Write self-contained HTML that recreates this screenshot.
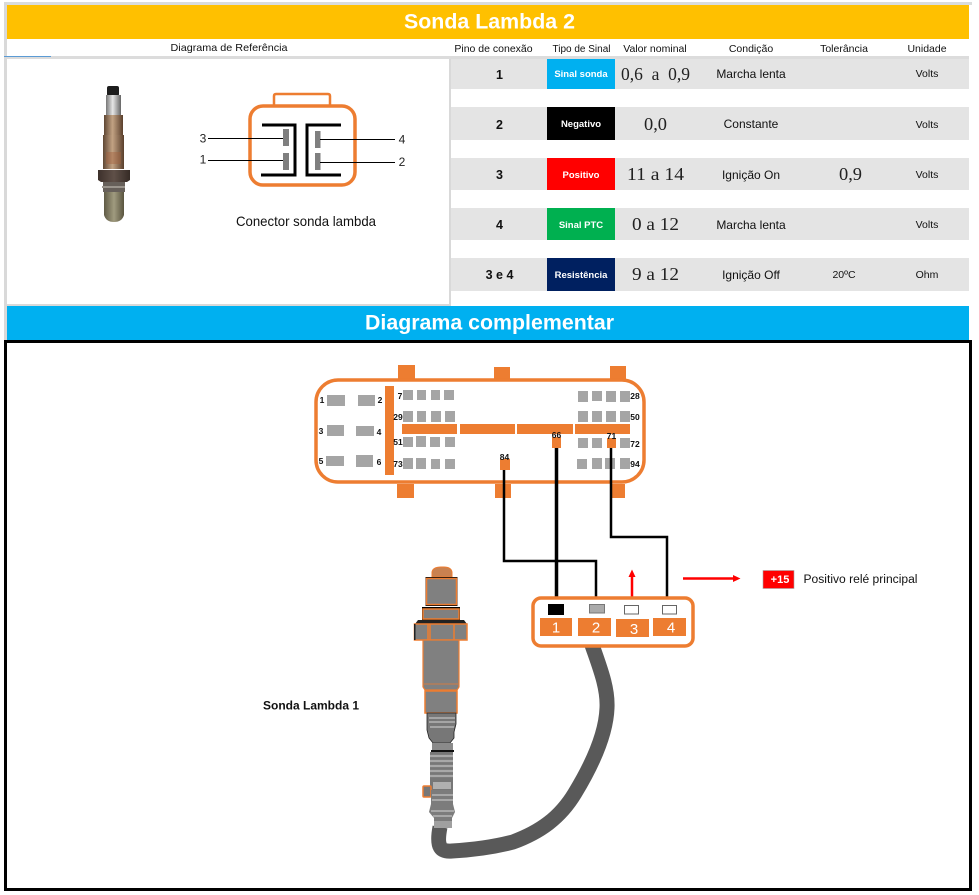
<!DOCTYPE html>
<html>
<head>
<meta charset="utf-8">
<style>
html,body{margin:0;padding:0;background:#fff;}
svg{display:block;}
text{font-family:"Liberation Sans",sans-serif;white-space:pre;}
.h{font-size:10.5px;fill:#111;text-anchor:middle;}
.pin{font-size:12.5px;font-weight:bold;fill:#111;text-anchor:middle;}
.sig{font-size:9.5px;font-weight:bold;fill:#fff;text-anchor:middle;}
.val{font-family:"Liberation Serif",serif;font-size:18px;fill:#222;text-anchor:middle;}
.c{font-size:12px;fill:#111;text-anchor:middle;}
.u{font-size:10.5px;fill:#111;text-anchor:middle;}
.e{font-size:8.5px;font-weight:bold;fill:#111;text-anchor:middle;}
.n{font-size:15px;fill:#fff;text-anchor:middle;}
.cn{font-size:12px;fill:#222;text-anchor:middle;}
.g rect{fill:#a5a5a5;}
.o{fill:#ed7d31;}
.s{fill:#808080;stroke:#ed7d31;stroke-width:1.5;}
</style>
</head>
<body>
<svg width="979" height="895" viewBox="0 0 979 895" xmlns="http://www.w3.org/2000/svg">
<defs>
<linearGradient id="cop" x1="0" x2="1" y1="0" y2="0"><stop offset="0" stop-color="#5f4734"/><stop offset=".45" stop-color="#c2a283"/><stop offset="1" stop-color="#5a3f2c"/></linearGradient>
<linearGradient id="sil" x1="0" x2="1" y1="0" y2="0"><stop offset="0" stop-color="#777"/><stop offset=".45" stop-color="#e6e6e6"/><stop offset="1" stop-color="#666"/></linearGradient>
<linearGradient id="hex" x1="0" x2="1" y1="0" y2="0"><stop offset="0" stop-color="#3d302b"/><stop offset=".5" stop-color="#5f5048"/><stop offset="1" stop-color="#352a25"/></linearGradient>
<linearGradient id="tip" x1="0" x2="1" y1="0" y2="0"><stop offset="0" stop-color="#5f5a45"/><stop offset=".5" stop-color="#a09b7f"/><stop offset="1" stop-color="#59543f"/></linearGradient>
</defs>

<!-- page frame -->
<rect x="4" y="2" width="968" height="3" fill="#d9dcdc"/>
<rect x="4" y="2" width="3" height="338" fill="#d9d9d9"/>
<rect x="7" y="5" width="962" height="34" fill="#ffc000"/>
<text x="489.500" y="28.500" text-anchor="middle" font-size="21" font-weight="bold" fill="#fff" textLength="171" lengthAdjust="spacingAndGlyphs">Sonda Lambda 2</text>

<!-- header row -->
<text class="h" x="229" y="51" textLength="117" lengthAdjust="spacingAndGlyphs">Diagrama de Referência</text>
<text class="h" x="493.500" y="52">Pino de conexão</text>
<text class="h" x="581.500" y="52" style="font-size:10px">Tipo de Sinal</text>
<text class="h" x="655" y="52">Valor nominal</text>
<text class="h" x="751" y="52">Condição</text>
<text class="h" x="844" y="52">Tolerância</text>
<text class="h" x="927" y="52">Unidade</text>
<rect x="7" y="56" width="962" height="3" fill="#dcdcdc"/>
<rect x="4" y="56" width="47" height="1" fill="#5b9bd5"/>

<!-- left panel -->
<rect x="7" y="59" width="442" height="245" fill="#fff"/>
<rect x="449" y="59" width="2" height="247" fill="#d9d9d9"/>
<rect x="7" y="304" width="442" height="2" fill="#d9d9d9"/>

<!-- sensor photo -->
<rect x="107" y="86" width="12" height="10" rx="2" fill="#1d1d1d"/>
<rect x="106" y="95" width="15" height="21" fill="url(#sil)"/>
<rect x="104" y="115" width="19" height="21" fill="url(#cop)"/>
<rect x="103" y="135" width="21" height="34" fill="url(#cop)"/>
<rect x="106" y="152" width="15" height="12" fill="#a5623f" opacity=".45"/>
<polygon points="98,170 130,170 130,180 127,182 101,182 98,180" fill="url(#hex)"/>
<rect x="103" y="182" width="22" height="10" fill="#67605a"/>
<rect x="102" y="186" width="23" height="2" fill="#9a948c"/>
<path d="M104 192H124V215Q122 222 114 222Q106 222 104 215Z" fill="url(#tip)"/>

<!-- small connector -->
<path d="M274 105V96Q274 94 276 94H328Q330 94 330 96V105" fill="none" stroke="#ed7d31" stroke-width="2.500"/>
<rect x="250" y="106" width="105" height="79" rx="13" fill="#fff" stroke="#ed7d31" stroke-width="3.500"/>
<path d="M262 125H295V175H261" fill="none" stroke="#000" stroke-width="3"/>
<path d="M341 125H307V175H341" fill="none" stroke="#000" stroke-width="3"/>
<rect x="283" y="129" width="6" height="17" fill="#7f7f7f"/>
<rect x="283" y="153" width="6" height="17" fill="#7f7f7f"/>
<rect x="315" y="131" width="5.500" height="17" fill="#7f7f7f"/>
<rect x="315" y="153" width="5.500" height="17" fill="#7f7f7f"/>
<path d="M208 138.500H283M208 160.500H283M320 139.500H395M320 162.500H395" stroke="#000" stroke-width="1" fill="none"/>
<text class="cn" x="203" y="142.500">3</text>
<text class="cn" x="203" y="163.500">1</text>
<text class="cn" x="402" y="143.500">4</text>
<text class="cn" x="402" y="166">2</text>
<text x="306" y="226" text-anchor="middle" font-size="14" fill="#111" textLength="140" lengthAdjust="spacingAndGlyphs">Conector sonda lambda</text>

<!-- table rows -->
<g fill="#e4e4e4">
<rect x="451" y="59" width="518" height="30"/>
<rect x="451" y="107" width="518" height="33"/>
<rect x="451" y="158" width="518" height="32"/>
<rect x="451" y="208" width="518" height="32"/>
<rect x="451" y="258" width="518" height="33"/>
</g>
<rect x="547" y="59" width="68" height="30" fill="#00b0f0"/>
<rect x="547" y="107" width="68" height="33" fill="#000"/>
<rect x="547" y="158" width="68" height="32" fill="#ff0000"/>
<rect x="547" y="208" width="68" height="32" fill="#00b050"/>
<rect x="547" y="258" width="68" height="33" fill="#002060"/>

<text class="pin" x="499.500" y="79">1</text>
<text class="pin" x="499.500" y="129">2</text>
<text class="pin" x="499.500" y="179">3</text>
<text class="pin" x="499.500" y="229">4</text>
<text class="pin" x="499.500" y="279">3 e 4</text>

<text class="sig" x="581" y="77">Sinal sonda</text>
<text class="sig" x="581" y="127">Negativo</text>
<text class="sig" x="581" y="178">Positivo</text>
<text class="sig" x="581" y="228">Sinal PTC</text>
<text class="sig" x="581" y="278">Resistência</text>

<text class="val" x="655.500" y="80" textLength="69" lengthAdjust="spacingAndGlyphs">0,6  a  0,9</text>
<text class="val" x="655.500" y="130" textLength="23" lengthAdjust="spacingAndGlyphs">0,0</text>
<text class="val" x="655.500" y="180" textLength="57" lengthAdjust="spacingAndGlyphs">11 a 14</text>
<text class="val" x="655.500" y="230" textLength="47" lengthAdjust="spacingAndGlyphs">0 a 12</text>
<text class="val" x="655.500" y="280" textLength="47" lengthAdjust="spacingAndGlyphs">9 a 12</text>

<text class="c" x="751" y="78">Marcha lenta</text>
<text class="c" x="751" y="128">Constante</text>
<text class="c" x="751" y="179">Ignição On</text>
<text class="c" x="751" y="229">Marcha lenta</text>
<text class="c" x="751" y="279">Ignição Off</text>

<text class="val" x="850.500" y="180" textLength="23" lengthAdjust="spacingAndGlyphs">0,9</text>
<text class="u" x="844" y="278">20ºC</text>

<text class="u" x="927" y="77">Volts</text>
<text class="u" x="927" y="128">Volts</text>
<text class="u" x="927" y="178">Volts</text>
<text class="u" x="927" y="228">Volts</text>
<text class="u" x="927" y="278">Ohm</text>

<!-- second title -->
<rect x="7" y="306" width="962" height="34" fill="#00b0f0"/>
<text x="489.500" y="329.500" text-anchor="middle" font-size="21" font-weight="bold" fill="#fff" textLength="249" lengthAdjust="spacingAndGlyphs">Diagrama complementar</text>

<!-- black frame -->
<rect x="5.500" y="341.500" width="965" height="548" fill="#fff" stroke="#000" stroke-width="3"/>

<!-- ECU connector tabs -->
<g class="o">
<rect x="398" y="365" width="17" height="15"/>
<rect x="494" y="367" width="16" height="13"/>
<rect x="610" y="366" width="16" height="14"/>
<rect x="397" y="484" width="17" height="14"/>
<rect x="495" y="484" width="16" height="14"/>
<rect x="612" y="484" width="13" height="14"/>
</g>
<rect x="316" y="380" width="328" height="102" rx="22" fill="#fff" stroke="#ed7d31" stroke-width="3.500"/>
<rect x="385" y="386" width="9" height="89" class="o"/>

<g class="g">
<rect x="327" y="395" width="18" height="11"/><rect x="358" y="395" width="17" height="11"/>
<rect x="327" y="425" width="17" height="11"/><rect x="356" y="426" width="18" height="10"/>
<rect x="326" y="456" width="18" height="10"/><rect x="356" y="455" width="17" height="12"/>

<rect x="403" y="390" width="10" height="10"/><rect x="417" y="390" width="9" height="10"/><rect x="431" y="390" width="9" height="10"/><rect x="444" y="390" width="10" height="10"/>
<rect x="403" y="411" width="10" height="11"/><rect x="417" y="411" width="9" height="11"/><rect x="431" y="411" width="10" height="11"/><rect x="445" y="411" width="10" height="11"/>
<rect x="403" y="437" width="10" height="10"/><rect x="416" y="436" width="10" height="11"/><rect x="430" y="437" width="10" height="10"/><rect x="445" y="437" width="10" height="10"/>
<rect x="403" y="458" width="10" height="11"/><rect x="416" y="458" width="10" height="11"/><rect x="431" y="459" width="9" height="10"/><rect x="445" y="459" width="10" height="10"/>

<rect x="578" y="391" width="10" height="11"/><rect x="592" y="391" width="10" height="10"/><rect x="606" y="391" width="10" height="11"/><rect x="620" y="391" width="10" height="11"/>
<rect x="578" y="411" width="10" height="11"/><rect x="592" y="411" width="10" height="11"/><rect x="606" y="411" width="10" height="11"/><rect x="620" y="411" width="10" height="11"/>
<rect x="578" y="438" width="10" height="10"/><rect x="592" y="438" width="10" height="10"/><rect x="620" y="438" width="10" height="10"/>
<rect x="577" y="459" width="10" height="10"/><rect x="592" y="458" width="10" height="11"/><rect x="605" y="458" width="10" height="11"/><rect x="620" y="458" width="10" height="11"/>
</g>

<g class="o">
<rect x="402" y="424" width="55" height="10"/>
<rect x="460" y="424" width="55" height="10"/>
<rect x="517" y="424" width="56" height="10"/>
<rect x="575" y="424" width="55" height="10"/>
<rect x="552" y="437" width="9" height="11"/>
<rect x="607" y="438" width="9" height="10"/>
<rect x="500" y="459" width="10" height="11"/>
</g>

<g class="e">
<text class="e" x="322" y="403">1</text><text class="e" x="380" y="403">2</text>
<text class="e" x="321" y="434">3</text><text class="e" x="379" y="435">4</text>
<text class="e" x="321" y="464">5</text><text class="e" x="379" y="465">6</text>
<text class="e" x="400" y="399">7</text><text class="e" x="398" y="420">29</text>
<text class="e" x="398" y="445">51</text><text class="e" x="398" y="467">73</text>
<text class="e" x="635" y="399">28</text><text class="e" x="635" y="420">50</text>
<text class="e" x="635" y="447">72</text><text class="e" x="635" y="467">94</text>
<text class="e" x="556.500" y="438">66</text><text class="e" x="611.500" y="439">71</text><text class="e" x="504.500" y="460">84</text>
</g>

<!-- wires -->
<path d="M504 470V561H596V597" fill="none" stroke="#000" stroke-width="2.500"/>
<path d="M556.500 448V597" fill="none" stroke="#000" stroke-width="3.500"/>
<path d="M611 448V537H667V597" fill="none" stroke="#000" stroke-width="2.500"/>

<!-- red arrows -->
<path d="M632 597V576" stroke="#ff0000" stroke-width="2.500" fill="none"/>
<polygon points="632,569.500 635.500,577 628.500,577" fill="#ff0000"/>
<path d="M683 578.500H734" stroke="#ff0000" stroke-width="2.500" fill="none"/>
<polygon points="740.500,578.500 733,575 733,582" fill="#ff0000"/>
<rect x="763" y="570.500" width="31" height="18" fill="#ff0000" stroke="#a5a5a5" stroke-width=".6"/>
<text x="780" y="583" text-anchor="middle" font-size="11" font-weight="bold" fill="#fff">+15</text>
<text x="803.500" y="583" font-size="11.500" fill="#111" textLength="114" lengthAdjust="spacingAndGlyphs">Positivo relé principal</text>

<!-- cable -->
<path d="M592 645C600 668 608 688 607 708C606 735 592 765 575 793C560 818 540 832 513 842C490 848 470 850 452 851C441 852 436 848 440 827" fill="none" stroke="#595959" stroke-width="15"/>

<!-- 4 pin connector -->
<rect x="533" y="598" width="160" height="48" rx="8" fill="#fff" stroke="#ed7d31" stroke-width="3.500"/>
<rect x="548" y="604" width="16" height="11" fill="#000"/>
<rect x="589.500" y="604.500" width="15" height="8.500" fill="#aaa" stroke="#777" stroke-width="1"/>
<rect x="624.500" y="605.500" width="14" height="8.500" fill="#fff" stroke="#666" stroke-width="1"/>
<rect x="662.500" y="605.500" width="14" height="8.500" fill="#fff" stroke="#666" stroke-width="1"/>
<g class="o">
<rect x="540" y="618" width="32" height="18"/>
<rect x="578" y="618" width="33" height="18"/>
<rect x="616" y="619" width="33" height="18"/>
<rect x="653" y="618" width="33" height="18"/>
</g>
<text class="n" x="556" y="632.500">1</text>
<text class="n" x="596" y="632.500">2</text>
<text class="n" x="634" y="634">3</text>
<text class="n" x="671" y="632.500">4</text>

<text x="311" y="709.500" text-anchor="middle" font-size="12" font-weight="bold" fill="#111">Sonda Lambda 1</text>

<!-- large sensor -->
<path d="M432 577V572Q433 567 441 567H444Q451 567 452 572V577Z" fill="#c98150" stroke="#ed7d31"/>
<rect x="425.500" y="577" width="32" height="29" fill="#000"/>
<rect x="426.500" y="578.500" width="30" height="26" class="s"/>
<rect x="422" y="607" width="38" height="13" fill="#000"/>
<rect x="423" y="609" width="36" height="10" class="s"/>
<polygon points="418,620 464,620 467,624 415,624" fill="#222"/>
<rect x="414.500" y="624" width="52.500" height="16" fill="#808080" stroke="#ed7d31" stroke-width="1.500"/>
<rect x="414" y="624" width="1.500" height="16" fill="#222"/>
<path d="M428 624V640M430 624V640M454 624V640" stroke="#ed7d31" stroke-width="1.500" fill="none"/>
<path d="M423 640H459V687L457 690H425L423 687Z" fill="#808080" stroke="#ed7d31" stroke-width="1.200"/>
<path d="M424 684H458" stroke="#ed7d31" stroke-width=".8"/>
<rect x="425" y="691" width="32" height="22" class="s"/>

<!-- crimp section -->
<path d="M427 713H456L456 724L454 732V738L450 743H433L429 738L427 730Z" fill="#777" stroke="#222" stroke-width=".8"/>
<path d="M429 718H455M429 722H455M430 727H454" stroke="#a5a5a5" stroke-width="2"/>
<rect x="432" y="743" width="21" height="7" fill="#8a8a8a"/>
<rect x="431" y="750" width="23" height="2" fill="#111"/>
<rect x="430" y="752" width="23" height="38" fill="#777"/>
<path d="M430 756H453M430 761H453M430 766H453M430 771H453M430 776H453" stroke="#a8a8a8" stroke-width="2.200"/>
<rect x="433" y="782" width="18" height="7" fill="#b0b0b0"/>
<rect x="423" y="786" width="8" height="11" rx="1" fill="#777" stroke="#ed7d31" stroke-width="1.500"/>
<path d="M431 790H453V804L455 812L452 818V828H434V818L429 812L431 804Z" fill="#7c7c7c"/>
<path d="M432 795H453M432 800H453M431 811H454M433 816H452" stroke="#a8a8a8" stroke-width="2"/>
<rect x="434" y="821" width="18" height="7" fill="#a0a0a0"/>
</svg>
</body>
</html>
